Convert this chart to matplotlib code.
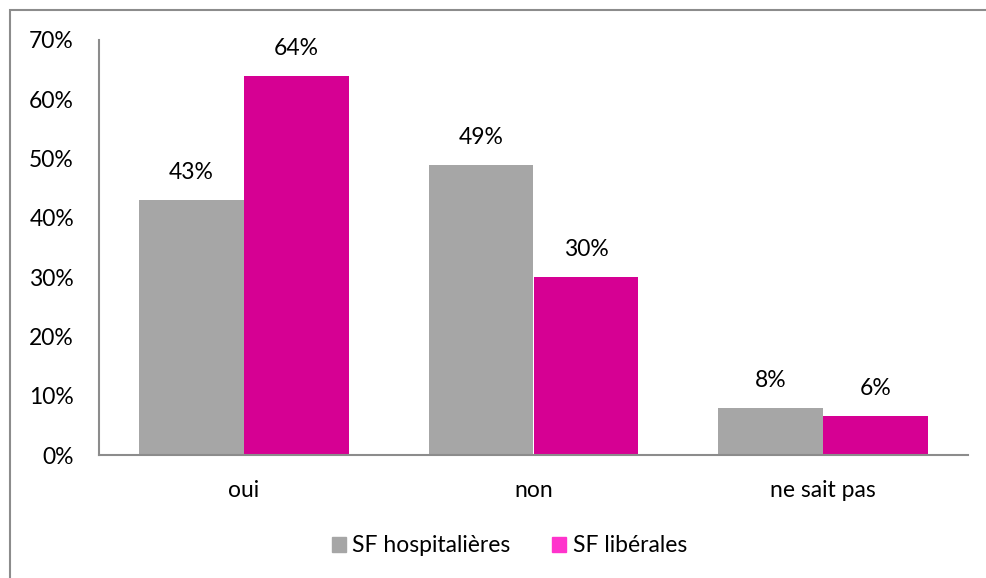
import matplotlib
matplotlib.use("Agg")
import matplotlib.pyplot as plt
from matplotlib.patches import Rectangle, Patch
import numpy as np

# données
categories = ["oui", "non", "ne sait pas"]
series_names = ["SF hospitalières", "SF libérales"]
hospitalieres = [43, 49, 8]
liberales = [64, 30, 6.6]
labels_hosp = ["43%", "49%", "8%"]
labels_lib = ["64%", "30%", "6%"]
yticks = [0, 10, 20, 30, 40, 50, 60, 70]

GRIS = "#A6A6A6"
MAGENTA = "#D60093"
MAGENTA_LEG = "#FF33CC"
FS = 16.5
plt.rcParams["font.family"] = ["Lato", "DejaVu Sans"]

fig = plt.figure(figsize=(9.87, 5.78), dpi=100)
# cadre extérieur (coupé à droite et en bas comme dans l'original)
fig.patches.append(Rectangle((10 / 987, -0.1), 1.2, (578 - 10) / 578 + 0.1,
                             transform=fig.transFigure, fill=False,
                             edgecolor="#8C8C8C", linewidth=1.5))

ax = fig.add_axes([99 / 987, (578 - 455) / 578, (968 - 99) / 987, (455 - 40) / 578])
x = np.arange(len(categories))
w = 0.362
b1 = ax.bar(x - w / 2, hospitalieres, w, color=GRIS, label=series_names[0])
b2 = ax.bar(x + w / 2, liberales, w, color=MAGENTA, label=series_names[1])
for bars, labs in ((b1, labels_hosp), (b2, labels_lib)):
    for rect, lab in zip(bars, labs):
        ax.annotate(lab, (rect.get_x() + rect.get_width() / 2, rect.get_height()),
                    xytext=(0, 12), textcoords="offset points",
                    ha="center", va="bottom", fontsize=FS)

ax.set_xlim(-0.5, len(categories) - 0.5)
ax.set_ylim(0, 70)
ax.set_yticks(yticks)
ax.set_yticklabels([f"{t}%" for t in yticks], fontsize=FS)
ax.set_xticks(x)
ax.set_xticklabels(categories, fontsize=FS)
ax.tick_params(axis="y", length=0, pad=18)
ax.tick_params(axis="x", length=0, pad=18)
for s in ("top", "right"):
    ax.spines[s].set_visible(False)
for s in ("left", "bottom"):
    ax.spines[s].set_color("#8C8C8C")
    ax.spines[s].set_linewidth(1.5)

handles = [Patch(color=GRIS), Patch(color=MAGENTA_LEG)]
fig.legend(handles, series_names, loc="center", bbox_to_anchor=(0.516, (578 - 546) / 578),
           ncol=2, frameon=False, fontsize=FS, handlelength=0.6, handleheight=0.6,
           handletextpad=0.3, columnspacing=1.8)

fig.savefig("out.png", dpi=100)
